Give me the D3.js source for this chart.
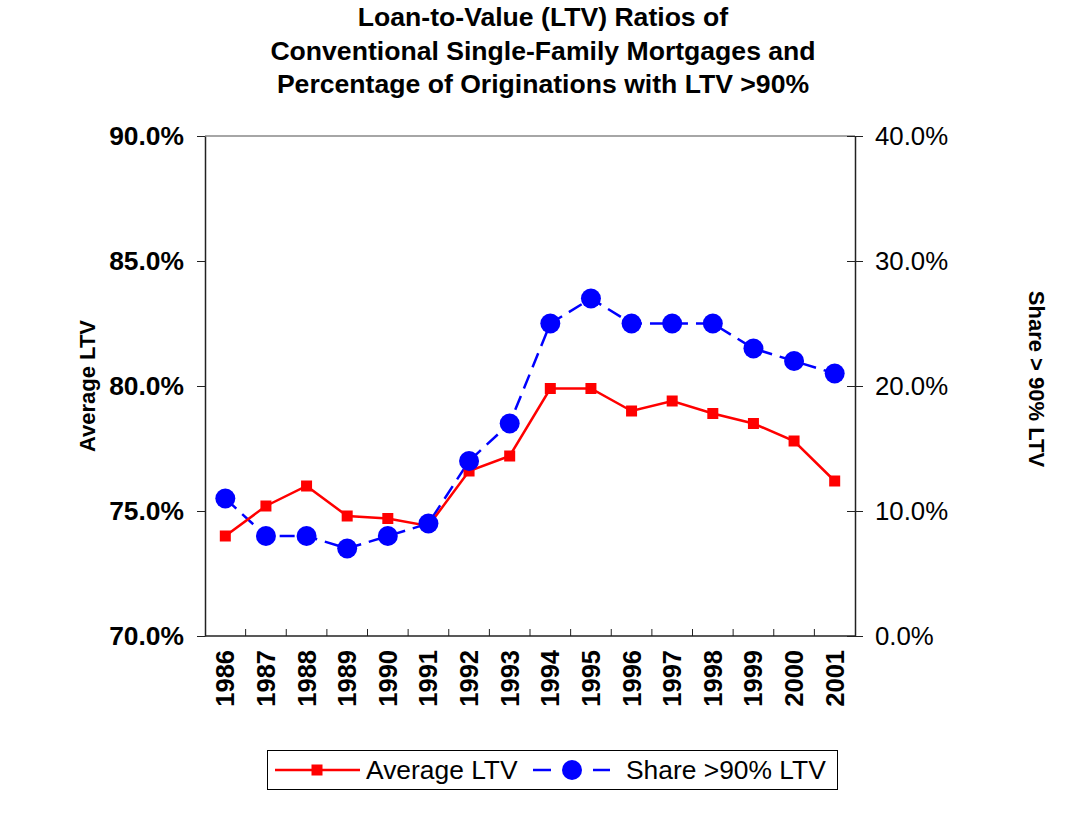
<!DOCTYPE html>
<html lang="en">
<head>
<meta charset="UTF-8">
<script src="https://d3js.org/d3.v7.min.js"></script>
<title>LTV Ratios</title>
<style>
    body { margin: 0; background: white; font-family: "Liberation Sans", Arial, sans-serif; }
    .axis text { font-family: "Liberation Sans", Arial, sans-serif; fill: black; }
</style>
</head>
<body>
<script>
    // data
    var years = ["1986","1987","1988","1989","1990","1991","1992","1993","1994","1995","1996","1997","1998","1999","2000","2001"];
    var avgLTV = [74.0, 75.2, 76.0, 74.8, 74.7, 74.4, 76.6, 77.2, 79.9, 79.9, 79.0, 79.4, 78.9, 78.5, 77.8, 76.2];
    var share90 = [11.0, 8.0, 8.0, 7.0, 8.0, 9.0, 14.0, 17.0, 25.0, 27.0, 25.0, 25.0, 25.0, 23.0, 22.0, 21.0];
    var leftTicks = [70, 75, 80, 85, 90];
    var rightTicks = [0, 10, 20, 30, 40];
    var titleLines = ["Loan-to-Value (LTV) Ratios of", "Conventional Single-Family Mortgages and", "Percentage of Originations with LTV >90%"];

    var W = 1078, H = 815;
    var plot = {left: 205, right: 855, top: 136, bottom: 636};

    var svg = d3.select("body").append("svg")
        .attr("width", W)
        .attr("height", H);

    var x = d3.scaleBand().domain(years).range([plot.left, plot.right]).padding(0);
    var yL = d3.scaleLinear().domain([70, 90]).range([plot.bottom, plot.top]);
    var yR = d3.scaleLinear().domain([0, 40]).range([plot.bottom, plot.top]);
    var pct = function(d) { return d3.format(".1f")(d) + "%"; };

    // title
    svg.append("g").selectAll("text")
        .data(titleLines)
        .enter().append("text")
        .attr("x", 543)
        .attr("y", function(d, i) { return 26 + i * 33.5; })
        .attr("text-anchor", "middle")
        .style("font-size", "26.6px")
        .style("font-weight", "bold")
        .text(function(d) { return d; });

    // top border
    svg.append("line")
        .attr("x1", plot.left).attr("x2", plot.right)
        .attr("y1", plot.top).attr("y2", plot.top)
        .attr("stroke", "#888").attr("stroke-width", 1.5);

    // left axis
    var leftAxis = svg.append("g").attr("class", "axis")
        .attr("transform", "translate(" + plot.left + ",0)")
        .call(d3.axisLeft(yL).tickValues(leftTicks).tickFormat(pct).tickSizeInner(8).tickSizeOuter(0).tickPadding(13));
    leftAxis.selectAll("text").style("font-size", "26.4px").style("font-weight", "bold");

    // right axis
    var rightAxis = svg.append("g").attr("class", "axis")
        .attr("transform", "translate(" + plot.right + ",0)")
        .call(d3.axisRight(yR).tickValues(rightTicks).tickFormat(pct).tickSizeInner(8).tickSizeOuter(0).tickPadding(12));
    rightAxis.selectAll("text").style("font-size", "25.8px");
    // ticks crossing inward too
    rightAxis.selectAll(".tick line").attr("x1", -8);

    // bottom axis with category separators
    var bottom = svg.append("g").attr("class", "axis");
    bottom.append("line")
        .attr("x1", plot.left).attr("x2", plot.right)
        .attr("y1", plot.bottom).attr("y2", plot.bottom)
        .attr("stroke", "#222").attr("stroke-width", 1.5);
    bottom.selectAll(".sep")
        .data(years.slice(1))
        .enter().append("line")
        .attr("class", "sep")
        .attr("x1", function(d) { return x(d); })
        .attr("x2", function(d) { return x(d); })
        .attr("y1", plot.bottom).attr("y2", plot.bottom - 7)
        .attr("stroke", "#222").attr("stroke-width", 1);
    bottom.selectAll(".yr")
        .data(years)
        .enter().append("text")
        .attr("class", "yr")
        .attr("transform", function(d) { return "translate(" + (x(d) + x.bandwidth() / 2 + 9) + "," + (plot.bottom + 14) + ") rotate(-90)"; })
        .attr("text-anchor", "end")
        .style("font-size", "25.5px")
        .style("font-weight", "bold")
        .text(function(d) { return d; });

    svg.selectAll(".axis path.domain").attr("stroke", "#222").attr("stroke-width", 1.5);
    svg.selectAll(".axis .tick line").attr("stroke", "#222");

    // axis titles
    svg.append("text")
        .attr("transform", "translate(95,386) rotate(-90)")
        .attr("text-anchor", "middle")
        .style("font-size", "22px").style("font-weight", "bold")
        .text("Average LTV");
    svg.append("text")
        .attr("transform", "translate(1029,379) rotate(90)")
        .attr("text-anchor", "middle")
        .style("font-size", "22px").style("font-weight", "bold")
        .text("Share > 90% LTV");

    var cx = function(d, i) { return x(years[i]) + x.bandwidth() / 2; };

    // share series (behind)
    var shareLine = d3.line()
        .x(function(d, i) { return cx(d, i); })
        .y(function(d) { return yR(d); });
    svg.append("path")
        .datum(share90)
        .attr("d", shareLine)
        .attr("fill", "none")
        .attr("stroke", "#0000ff")
        .attr("stroke-width", 2.5)
        .attr("stroke-dasharray", "15,8");

    // average series
    var avgLine = d3.line()
        .x(function(d, i) { return cx(d, i); })
        .y(function(d) { return yL(d); });
    svg.append("path")
        .datum(avgLTV)
        .attr("d", avgLine)
        .attr("fill", "none")
        .attr("stroke", "#ff0000")
        .attr("stroke-width", 2.5);
    svg.selectAll(".sq")
        .data(avgLTV)
        .enter().append("rect")
        .attr("class", "sq")
        .attr("x", function(d, i) { return cx(d, i) - 5.5; })
        .attr("y", function(d) { return yL(d) - 5.5; })
        .attr("width", 11).attr("height", 11)
        .attr("fill", "#ff0000");

    svg.selectAll(".dot")
        .data(share90)
        .enter().append("circle")
        .attr("class", "dot")
        .attr("cx", function(d, i) { return cx(d, i); })
        .attr("cy", function(d) { return yR(d); })
        .attr("r", 10)
        .attr("fill", "#0000ff");

    // legend
    var lg = svg.append("g");
    lg.append("rect")
        .attr("x", 267.5).attr("y", 750.5)
        .attr("width", 570).attr("height", 39)
        .attr("fill", "white").attr("stroke", "black").attr("stroke-width", 1);
    lg.append("line")
        .attr("x1", 275).attr("x2", 360).attr("y1", 770).attr("y2", 770)
        .attr("stroke", "#ff0000").attr("stroke-width", 2.5);
    lg.append("rect")
        .attr("x", 311.5).attr("y", 764.5).attr("width", 11).attr("height", 11)
        .attr("fill", "#ff0000");
    lg.append("text")
        .attr("x", 366).attr("y", 779)
        .style("font-size", "26.4px")
        .text("Average LTV");
    lg.append("line")
        .attr("x1", 533).attr("x2", 551).attr("y1", 770).attr("y2", 770)
        .attr("stroke", "#0000ff").attr("stroke-width", 2.5);
    lg.append("line")
        .attr("x1", 593).attr("x2", 610).attr("y1", 770).attr("y2", 770)
        .attr("stroke", "#0000ff").attr("stroke-width", 2.5);
    lg.append("circle")
        .attr("cx", 572).attr("cy", 770).attr("r", 10)
        .attr("fill", "#0000ff");
    lg.append("text")
        .attr("x", 626).attr("y", 779)
        .style("font-size", "26.4px")
        .text("Share >90% LTV");
</script>
</body>
</html>
